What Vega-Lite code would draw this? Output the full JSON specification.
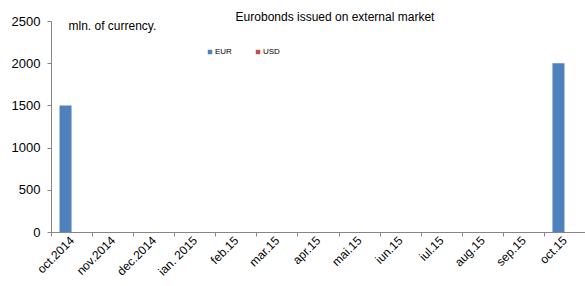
{
  "$schema": "https://vega.github.io/schema/vega-lite/v6.json",
  "autosize": "none",
  "width": 534,
  "height": 211,
  "padding": {"left": 51, "top": 21, "right": 0, "bottom": 54},
  "background": "white",
  "config": {"view": {"stroke": null}, "font": "Liberation Sans"},
  "title": {
    "text": "Eurobonds issued on external market",
    "fontSize": 12,
    "fontWeight": "normal",
    "font": "Liberation Sans",
    "color": "#000000",
    "anchor": "middle",
    "frame": "group",
    "dx": 17,
    "dy": 19,
    "offset": -2,
    "baseline": "bottom"
  },
  "data": {
    "values": [
      {"month": "oct.2014", "currency": "EUR", "value": 1500},
      {"month": "oct.2014", "currency": "USD", "value": 0},
      {"month": "nov.2014", "currency": "EUR", "value": 0},
      {"month": "nov.2014", "currency": "USD", "value": 0},
      {"month": "dec.2014", "currency": "EUR", "value": 0},
      {"month": "dec.2014", "currency": "USD", "value": 0},
      {"month": "ian. 2015", "currency": "EUR", "value": 0},
      {"month": "ian. 2015", "currency": "USD", "value": 0},
      {"month": "feb.15", "currency": "EUR", "value": 0},
      {"month": "feb.15", "currency": "USD", "value": 0},
      {"month": "mar.15", "currency": "EUR", "value": 0},
      {"month": "mar.15", "currency": "USD", "value": 0},
      {"month": "apr.15", "currency": "EUR", "value": 0},
      {"month": "apr.15", "currency": "USD", "value": 0},
      {"month": "mai.15", "currency": "EUR", "value": 0},
      {"month": "mai.15", "currency": "USD", "value": 0},
      {"month": "iun.15", "currency": "EUR", "value": 0},
      {"month": "iun.15", "currency": "USD", "value": 0},
      {"month": "iul.15", "currency": "EUR", "value": 0},
      {"month": "iul.15", "currency": "USD", "value": 0},
      {"month": "aug.15", "currency": "EUR", "value": 0},
      {"month": "aug.15", "currency": "USD", "value": 0},
      {"month": "sep.15", "currency": "EUR", "value": 0},
      {"month": "sep.15", "currency": "USD", "value": 0},
      {"month": "oct.15", "currency": "EUR", "value": 2000},
      {"month": "oct.15", "currency": "USD", "value": 0}
    ]
  },
  "mark": {"type": "bar"},
  "encoding": {
    "x": {
      "field": "month",
      "type": "nominal",
      "sort": null,
      "scale": {"paddingInner": 0, "paddingOuter": 0},
      "axis": {
        "title": null,
        "labelAngle": -45,
        "labelAlign": "right",
        "labelBaseline": "middle",
        "labelFontSize": 12,
        "labelColor": "#000000",
        "labelPadding": 2,
        "domainColor": "#868686",
        "tickColor": "#868686",
        "tickBand": "extent",
        "tickSize": 4,
        "grid": false
      }
    },
    "xOffset": {
      "field": "currency",
      "type": "nominal",
      "scale": {"paddingInner": 0, "paddingOuter": 0.71}
    },
    "y": {
      "field": "value",
      "type": "quantitative",
      "scale": {"domain": [0, 2500]},
      "axis": {
        "title": "mln. of currency.",
        "titleAngle": 0,
        "titleAlign": "left",
        "titleBaseline": "middle",
        "titleX": 17,
        "titleY": 4,
        "titleFontSize": 12,
        "titleFontWeight": "normal",
        "titleColor": "#000000",
        "values": [0, 500, 1000, 1500, 2000, 2500],
        "format": "d",
        "labelFontSize": 13,
        "labelColor": "#000000",
        "labelPadding": 7,
        "tickSize": 4,
        "domainColor": "#868686",
        "tickColor": "#868686",
        "grid": false
      }
    },
    "color": {
      "field": "currency",
      "type": "nominal",
      "scale": {"domain": ["EUR", "USD"], "range": ["#4F81BD", "#C0504D"]},
      "legend": {
        "title": null,
        "orient": "none",
        "legendX": 155,
        "legendY": 27,
        "direction": "horizontal",
        "symbolType": "square",
        "symbolSize": 20,
        "symbolStrokeWidth": 0,
        "labelFontSize": 8,
        "labelColor": "#000000",
        "labelOffset": 1,
        "columnPadding": 22
      }
    }
  }
}
